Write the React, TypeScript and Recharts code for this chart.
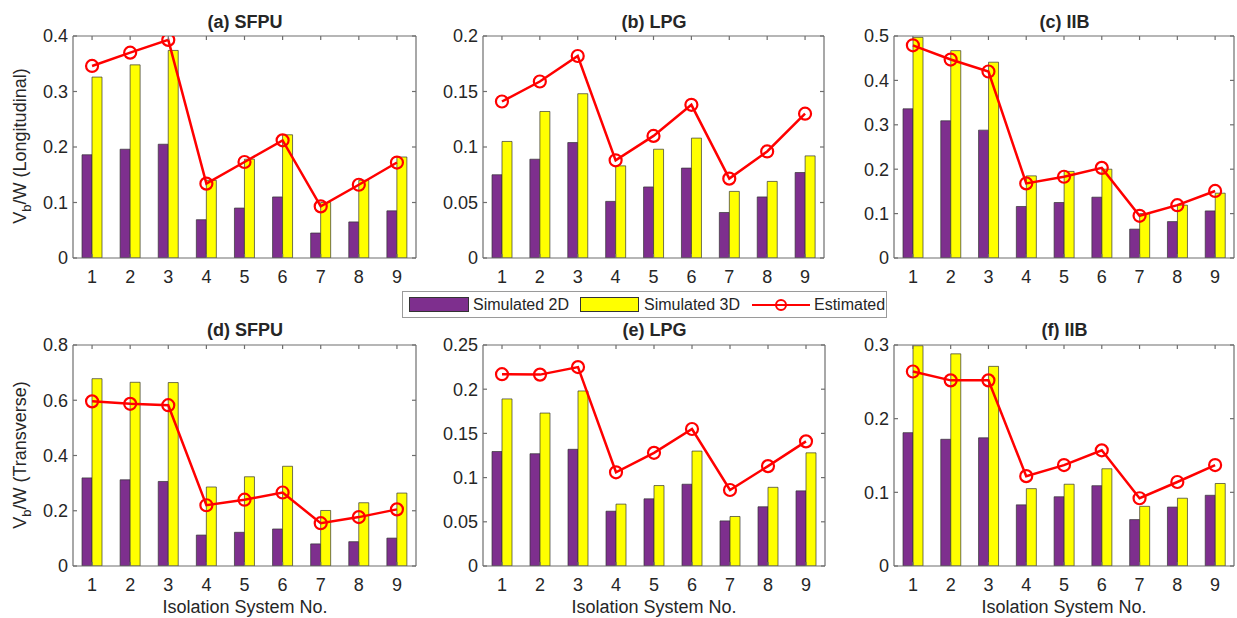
import React from "react";
import { ComposedChart, Bar, Line, XAxis, YAxis } from "recharts";

const systems = ["1", "2", "3", "4", "5", "6", "7", "8", "9"];

// Longitudinal
const sfpuL2D = [0.186, 0.196, 0.205, 0.069, 0.09, 0.11, 0.045, 0.065, 0.085];
const sfpuL3D = [0.326, 0.348, 0.374, 0.14, 0.178, 0.222, 0.1, 0.14, 0.182];
const sfpuLEst = [0.346, 0.37, 0.393, 0.134, 0.173, 0.212, 0.093, 0.132, 0.172];

const lpgL2D = [0.075, 0.089, 0.104, 0.051, 0.064, 0.081, 0.041, 0.055, 0.077];
const lpgL3D = [0.105, 0.132, 0.148, 0.083, 0.098, 0.108, 0.06, 0.069, 0.092];
const lpgLEst = [0.141, 0.159, 0.182, 0.088, 0.11, 0.138, 0.0715, 0.096, 0.13];

const iibL2D = [0.336, 0.309, 0.288, 0.116, 0.125, 0.137, 0.065, 0.082, 0.106];
const iibL3D = [0.497, 0.467, 0.441, 0.185, 0.195, 0.2, 0.1, 0.119, 0.146];
const iibLEst = [0.479, 0.447, 0.42, 0.168, 0.183, 0.203, 0.095, 0.119, 0.151];

// Transverse
const sfpuT2D = [0.319, 0.312, 0.306, 0.112, 0.122, 0.134, 0.08, 0.088, 0.101];
const sfpuT3D = [0.678, 0.665, 0.664, 0.286, 0.323, 0.361, 0.201, 0.229, 0.264];
const sfpuTEst = [0.596, 0.587, 0.582, 0.22, 0.24, 0.266, 0.155, 0.177, 0.205];

const lpgT2D = [0.1295, 0.127, 0.132, 0.062, 0.076, 0.0925, 0.051, 0.067, 0.085];
const lpgT3D = [0.189, 0.173, 0.198, 0.07, 0.091, 0.13, 0.056, 0.089, 0.128];
const lpgTEst = [0.217, 0.2165, 0.225, 0.106, 0.128, 0.155, 0.086, 0.113, 0.141];

const iibT2D = [0.181, 0.172, 0.174, 0.083, 0.094, 0.109, 0.063, 0.08, 0.096];
const iibT3D = [0.299, 0.288, 0.271, 0.105, 0.111, 0.132, 0.081, 0.092, 0.112];
const iibTEst = [0.264, 0.252, 0.252, 0.122, 0.137, 0.157, 0.092, 0.114, 0.137];

// Tick labels
const ticksA = [0, 0.1, 0.2, 0.3, 0.4];
const ticksB = [0, 0.05, 0.1, 0.15, 0.2];
const ticksC = [0, 0.1, 0.2, 0.3, 0.4, 0.5];
const ticksD = [0, 0.2, 0.4, 0.6, 0.8];
const ticksE = [0, 0.05, 0.1, 0.15, 0.2, 0.25];
const ticksF = [0, 0.1, 0.2, 0.3];

const legendLabels = ["Simulated 2D", "Simulated 3D", "Estimated"];
const FONT = '"Liberation Sans", Arial, Helvetica, sans-serif';
const TEXT = "#262626";
const AXIS = "#6e6e6e";
const PURPLE = "#7E2F8E";
const YELLOW = "#FFFF00";
const RED = "#FF0000";

type PanelProps = {
  title: string;
  d2: number[];
  d3: number[];
  est: number[];
  ticks: number[];
  left: number;
  top: number;
  width: number;
  height: number;
  titleY: number;
};

function Panel({ title, d2, d3, est, ticks, left, top, width, height, titleY }: PanelProps) {
  const data = systems.map((s, i) => ({ sys: s, d2: d2[i], d3: d3[i], est: est[i] }));
  const padL = 70;
  const padR = 10;
  const padT = 10;
  const padB = 40;
  const max = ticks[ticks.length - 1];
  const tickStyle = { fill: TEXT, fontSize: 18, fontFamily: FONT };
  return (
    <>
      <div
        style={{
          position: "absolute",
          left: left + width / 2,
          top: titleY,
          transform: "translate(-50%, -50%)",
          fontWeight: "bold",
          fontSize: 18,
          whiteSpace: "nowrap",
          color: TEXT,
        }}
      >
        {title}
      </div>
      <div style={{ position: "absolute", left: left - padL, top: top - padT }}>
        <ComposedChart
          width={width + padL + padR}
          height={height + padT + padB}
          data={data}
          margin={{ top: padT, right: padR, bottom: 0, left: 0 }}
          barGap={0}
          barSize={10}
        >
          <XAxis
            dataKey="sys"
            height={padB}
            tickSize={-4}
            tickMargin={16}
            tick={tickStyle}
            stroke={AXIS}
            strokeWidth={1.2}
            interval={0}
          />
          <XAxis
            xAxisId="top"
            dataKey="sys"
            orientation="top"
            height={1}
            tickSize={-4}
            tickMargin={0}
            tick={{ fontSize: 1, fill: "none" }}
            tickFormatter={() => ""}
            stroke={AXIS}
            strokeWidth={1.2}
            interval={0}
          />
          <YAxis
            type="number"
            domain={[0, max]}
            ticks={ticks}
            width={padL}
            tickSize={-4}
            tickMargin={9}
            tick={tickStyle}
            stroke={AXIS}
            strokeWidth={1.2}
            allowDataOverflow
            interval={0}
          />
          <YAxis
            yAxisId="right"
            orientation="right"
            type="number"
            domain={[0, max]}
            ticks={ticks}
            width={1}
            tickSize={-4}
            tickMargin={0}
            tick={{ fontSize: 1, fill: "none" }}
            tickFormatter={() => ""}
            stroke={AXIS}
            strokeWidth={1.2}
            allowDataOverflow
            interval={0}
          />
          <Bar dataKey="d2" fill={PURPLE} stroke="#333" strokeWidth={0.7} isAnimationActive={false} />
          <Bar dataKey="d3" fill={YELLOW} stroke="#333" strokeWidth={0.7} isAnimationActive={false} />
          <Line
            dataKey="est"
            xAxisId="top"
            yAxisId="right"
            stroke="none"
            dot={false}
            activeDot={false}
            legendType="none"
            isAnimationActive={false}
          />
          <Line
            dataKey="est"
            stroke={RED}
            strokeWidth={2.5}
            dot={{ r: 6, stroke: RED, strokeWidth: 2.2, fill: "none" }}
            isAnimationActive={false}
          />
        </ComposedChart>
      </div>
    </>
  );
}

function Legend() {
  return (
    <div
      style={{
        position: "absolute",
        left: 402,
        top: 291,
        width: 485,
        height: 27,
        boxSizing: "border-box",
        border: "1px solid #9a9a9a",
        background: "#fff",
        fontSize: 16,
        color: TEXT,
      }}
    >
      <div style={{ position: "absolute", left: 6, top: 5, width: 60, height: 15, boxSizing: "border-box", background: PURPLE, border: "1px solid #333" }} />
      <div style={{ position: "absolute", left: 70, top: 13, transform: "translateY(-50%)", whiteSpace: "nowrap" }}>{legendLabels[0]}</div>
      <div style={{ position: "absolute", left: 177, top: 5, width: 59, height: 15, boxSizing: "border-box", background: YELLOW, border: "1px solid #333" }} />
      <div style={{ position: "absolute", left: 241, top: 13, transform: "translateY(-50%)", whiteSpace: "nowrap" }}>{legendLabels[1]}</div>
      <svg style={{ position: "absolute", left: 349, top: 3 }} width={58} height={20}>
        <line x1={0} y1={10} x2={58} y2={10} stroke={RED} strokeWidth={2.2} />
        <circle cx={29} cy={10} r={5} stroke={RED} strokeWidth={2} fill="none" />
      </svg>
      <div style={{ position: "absolute", left: 411, top: 13, transform: "translateY(-50%)", whiteSpace: "nowrap" }}>{legendLabels[2]}</div>
    </div>
  );
}

function YLabel({ text, cy }: { text: string; cy: number }) {
  return (
    <div
      style={{
        position: "absolute",
        left: 22,
        top: cy,
        transform: "translate(-50%, -50%) rotate(-90deg)",
        whiteSpace: "nowrap",
        fontSize: 18,
        color: TEXT,
      }}
    >
      V<sub style={{ fontSize: 13 }}>b</sub>/W ({text})
    </div>
  );
}

function XLabel({ cx }: { cx: number }) {
  return (
    <div
      style={{
        position: "absolute",
        left: cx,
        top: 607,
        transform: "translate(-50%, -50%)",
        whiteSpace: "nowrap",
        fontSize: 18,
        color: TEXT,
      }}
    >
      Isolation System No.
    </div>
  );
}

export default function App() {
  return (
    <div
      style={{
        position: "absolute",
        left: 0,
        top: 0,
        width: 1237,
        height: 618,
        background: "#fff",
        fontFamily: FONT,
        overflow: "hidden",
      }}
    >
      <Panel title="(a) SFPU" d2={sfpuL2D} d3={sfpuL3D} est={sfpuLEst} ticks={ticksA} left={73} top={35} width={344} height={223} titleY={22} />
      <Panel title="(b) LPG" d2={lpgL2D} d3={lpgL3D} est={lpgLEst} ticks={ticksB} left={483} top={35} width={342} height={223} titleY={22} />
      <Panel title="(c) IIB" d2={iibL2D} d3={iibL3D} est={iibLEst} ticks={ticksC} left={894} top={35} width={341} height={223} titleY={22} />
      <Panel title="(d) SFPU" d2={sfpuT2D} d3={sfpuT3D} est={sfpuTEst} ticks={ticksD} left={73} top={344} width={344} height={222} titleY={330} />
      <Panel title="(e) LPG" d2={lpgT2D} d3={lpgT3D} est={lpgTEst} ticks={ticksE} left={483} top={344} width={343} height={222} titleY={330} />
      <Panel title="(f) IIB" d2={iibT2D} d3={iibT3D} est={iibTEst} ticks={ticksF} left={894} top={344} width={341} height={222} titleY={330} />
      <YLabel text="Longitudinal" cy={146} />
      <YLabel text="Transverse" cy={455} />
      <XLabel cx={245} />
      <XLabel cx={654} />
      <XLabel cx={1064} />
      <Legend />
    </div>
  );
}
